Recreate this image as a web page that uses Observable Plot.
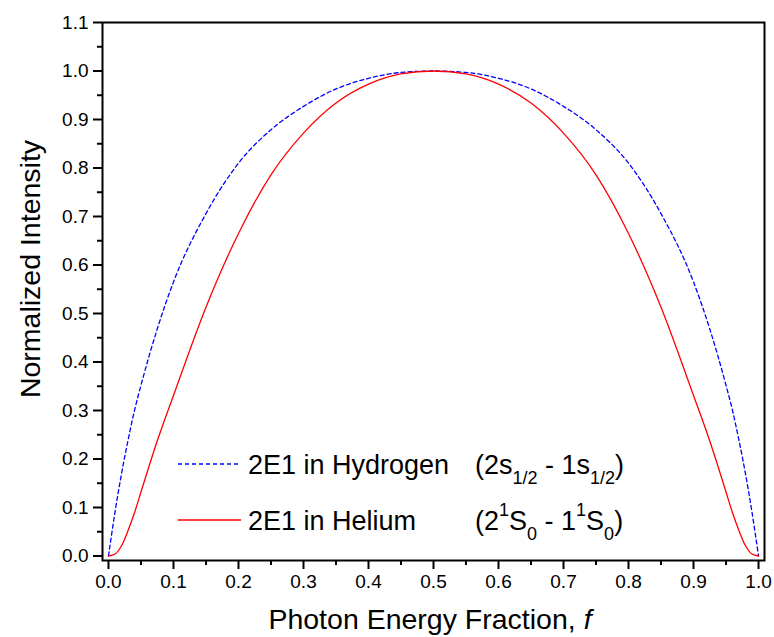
<!DOCTYPE html>
<html>
<head>
<meta charset="utf-8">
<script src="https://cdn.jsdelivr.net/npm/d3@7"></script>
<script src="https://cdn.jsdelivr.net/npm/@observablehq/plot@0.6"></script>
<style>
  html, body { margin: 0; padding: 0; background: #fff; }
  #chart svg { display: block; }
</style>
</head>
<body>
<div id="chart"></div>
<script>
// ---- data ----
const fGrid = [0, 0.01, 0.02, 0.03, 0.04, 0.05, 0.075, 0.1, 0.15, 0.2, 0.25, 0.3, 0.35, 0.4, 0.45, 0.5,
               0.55, 0.6, 0.65, 0.7, 0.75, 0.8, 0.85, 0.9, 0.925, 0.95, 0.96, 0.97, 0.98, 0.99, 1.0];
const hydrogen = [0, 0.09, 0.169, 0.238, 0.300, 0.352, 0.468, 0.565, 0.706, 0.810, 0.879, 0.927, 0.963, 0.985, 0.997, 1.0,
                  0.997, 0.985, 0.963, 0.927, 0.879, 0.810, 0.706, 0.565, 0.468, 0.352, 0.300, 0.238, 0.169, 0.09, 0];
const helium = [0, 0.004, 0.021, 0.052, 0.089, 0.132, 0.237, 0.331, 0.513, 0.665, 0.786, 0.872, 0.934, 0.973, 0.994, 1.0,
                0.994, 0.973, 0.934, 0.872, 0.786, 0.665, 0.513, 0.331, 0.237, 0.132, 0.089, 0.052, 0.021, 0.004, 0];
const xTicks = [0, 0.1, 0.2, 0.3, 0.4, 0.5, 0.6, 0.7, 0.8, 0.9, 1.0];
const xMinor = [0.05, 0.15, 0.25, 0.35, 0.45, 0.55, 0.65, 0.75, 0.85, 0.95];
const yTicks = [0, 0.1, 0.2, 0.3, 0.4, 0.5, 0.6, 0.7, 0.8, 0.9, 1.0, 1.1];
const yMinor = [0.05, 0.15, 0.25, 0.35, 0.45, 0.55, 0.65, 0.75, 0.85, 0.95, 1.05];
const seriesNames = ["2E1 in Hydrogen", "2E1 in Helium"];
const xLabel = "Photon Energy Fraction, ";
const yLabel = "Normalized Intensity";

const hData = fGrid.map((f, i) => ({f, v: hydrogen[i]}));
const heData = fGrid.map((f, i) => ({f, v: helium[i]}));

const W = 774, H = 637;
const fmt = d3.format(".1f");

const plot = Plot.plot({
  width: W,
  height: H,
  marginLeft: 102,
  marginRight: 10,
  marginTop: 22,
  marginBottom: 77,
  style: {fontFamily: "'Liberation Sans', Arial, sans-serif", fontSize: "19px", color: "#000", background: "#fff"},
  x: {domain: [-0.0092, 1.0092]},
  y: {domain: [-0.0093, 1.1]},
  marks: [
    Plot.axisX({ticks: xTicks, tickFormat: fmt, tickSize: 9, tickPadding: 5, strokeWidth: 2, label: null, fontSize: 19}),
    Plot.axisX({ticks: xMinor, tickFormat: null, text: null, tickSize: 5, strokeWidth: 2, label: null}),
    Plot.axisY({ticks: yTicks, tickFormat: fmt, tickSize: 9, tickPadding: 5, strokeWidth: 2, label: null, fontSize: 19}),
    Plot.axisY({ticks: yMinor, tickFormat: null, text: null, tickSize: 5, strokeWidth: 2, label: null}),
    Plot.line(hData, {x: "f", y: "v", stroke: "#0000ff", strokeWidth: 1.3, strokeDasharray: "4,3", curve: "monotone-x"}),
    Plot.line(heData, {x: "f", y: "v", stroke: "#ff0000", strokeWidth: 1.3, curve: "monotone-x"}),
    Plot.frame({stroke: "#000", strokeWidth: 2})
  ]
});

document.getElementById("chart").appendChild(plot);

// ---- axis titles and legend drawn into the same svg ----
const svg = d3.select(plot);
const font = "'Liberation Sans', Arial, sans-serif";

const xt = svg.append("text")
  .attr("x", 430).attr("y", 629)
  .attr("text-anchor", "middle")
  .attr("font-family", font).attr("font-size", 28.5).attr("fill", "#000");
xt.append("tspan").text(xLabel);
xt.append("tspan").attr("font-style", "italic").text("f");

svg.append("text")
  .attr("transform", "translate(40,269) rotate(-90)")
  .attr("text-anchor", "middle")
  .attr("font-family", font).attr("font-size", 28.5).attr("fill", "#000")
  .text(yLabel);

// legend
const lg = svg.append("g").attr("font-family", font).attr("fill", "#000").attr("text-anchor", "start");
lg.append("line").attr("x1", 178).attr("x2", 241).attr("y1", 464).attr("y2", 464)
  .attr("stroke", "#0000ff").attr("stroke-width", 1.3).attr("stroke-dasharray", "4,3");
lg.append("line").attr("x1", 178).attr("x2", 241).attr("y1", 520).attr("y2", 520)
  .attr("stroke", "#ff0000").attr("stroke-width", 1.3);
lg.append("text").attr("x", 248).attr("y", 474).attr("font-size", 27).attr("text-anchor", "start").text(seriesNames[0]);
lg.append("text").attr("x", 248).attr("y", 530).attr("font-size", 27).attr("text-anchor", "start").text(seriesNames[1]);

function rich(x, y, parts) {
  const t = lg.append("text").attr("x", x).attr("y", y).attr("font-size", 27).attr("text-anchor", "start");
  let cur = 0;
  for (const [s, kind] of parts) {
    const target = kind === "sub" ? 10 : kind === "sup" ? -14 : 0;
    const sp = t.append("tspan").attr("dy", target - cur).text(s);
    if (kind) sp.attr("font-size", 18);
    cur = target;
  }
}
rich(475, 474, [["(2s"], ["1/2", "sub"], [" - 1s"], ["1/2", "sub"], [")"]]);
rich(475, 530, [["(2"], ["1", "sup"], ["S"], ["0", "sub"], [" - 1"], ["1", "sup"], ["S"], ["0", "sub"], [")"]]);
</script>
</body>
</html>
